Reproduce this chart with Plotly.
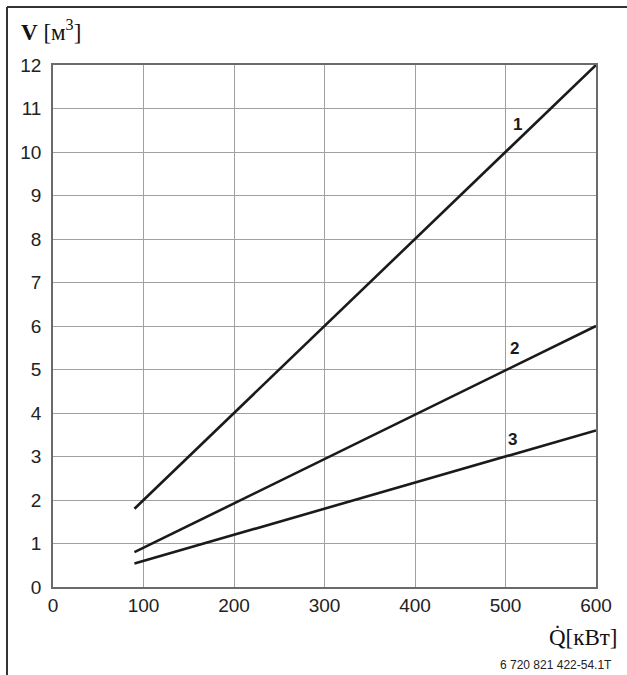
import plotly.graph_objects as go

# Data
q_values = [90, 600]
line1 = [1.8, 12.0]
line2 = [0.8, 6.0]
line3 = [0.54, 3.6]
series = [("1", line1), ("2", line2), ("3", line3)]
label_pos = {"1": (513, 10.64), "2": (510, 5.49), "3": (508, 3.38)}
x_ticks = [0, 100, 200, 300, 400, 500, 600]
y_ticks = list(range(0, 13))

W, H = 627, 675
L, T = 53, 65
R = W - 596
B = H - 587
pw, ph = W - L - R, H - T - B

fig = go.Figure()
for name, vals in series:
    fig.add_trace(go.Scatter(x=q_values, y=vals, mode="lines",
                             line=dict(color="#1a1a1a", width=2.6),
                             name=name, showlegend=False))
    lx, ly = label_pos[name]
    fig.add_annotation(x=lx, y=ly, text="<b>%s</b>" % name, showarrow=False,
                       font=dict(family="Liberation Sans, Arial", size=17, color="#1a1a1a"))


def px_to_paper_x(px):
    return (px - L) / pw


def px_to_paper_y(py):
    return (H - B - py) / ph


fig.update_layout(
    width=W, height=H,
    margin=dict(l=L, r=R, t=T, b=B),
    paper_bgcolor="white", plot_bgcolor="white",
    xaxis=dict(range=[0, 600], tickvals=x_ticks, showgrid=True, gridcolor="#a0a0a0",
               gridwidth=1, showline=True, linecolor="#6a6a6a", linewidth=1.5, mirror=True,
               zeroline=False, ticks="", ticklen=0,
               tickfont=dict(family="Liberation Sans, Arial", size=19, color="#222")),
    yaxis=dict(range=[0, 12], tickvals=y_ticks, showgrid=True, gridcolor="#a0a0a0",
               gridwidth=1, showline=True, linecolor="#6a6a6a", linewidth=1.5, mirror=True,
               zeroline=False, ticks="", ticklen=0, ticklabelstandoff=6,
               tickfont=dict(family="Liberation Sans, Arial", size=19, color="#222")),
)

# outer frame (top & left edges)
fig.add_shape(type="line", xref="paper", yref="paper",
              x0=px_to_paper_x(7), y0=px_to_paper_y(7), x1=px_to_paper_x(640), y1=px_to_paper_y(7),
              line=dict(color="#333", width=2))
fig.add_shape(type="line", xref="paper", yref="paper",
              x0=px_to_paper_x(7), y0=px_to_paper_y(7), x1=px_to_paper_x(7), y1=px_to_paper_y(690),
              line=dict(color="#333", width=2))

# axis titles
fig.add_annotation(xref="paper", yref="paper", x=px_to_paper_x(19), y=px_to_paper_y(30),
                   xanchor="left", yanchor="middle", showarrow=False,
                   text="<b>V</b> [м<sup>3</sup>]",
                   font=dict(family="Liberation Serif, Times New Roman", size=23, color="#111"))
fig.add_annotation(xref="paper", yref="paper", x=px_to_paper_x(620), y=px_to_paper_y(637),
                   xanchor="right", yanchor="middle", showarrow=False,
                   text="Q̇[кВт]",
                   font=dict(family="Liberation Serif, Times New Roman", size=23, color="#111"))
fig.add_annotation(xref="paper", yref="paper", x=px_to_paper_x(614), y=px_to_paper_y(665),
                   xanchor="right", yanchor="middle", showarrow=False,
                   text="6 720 821 422-54.1T",
                   font=dict(family="Liberation Sans, Arial", size=12, color="#222"))

fig.write_html("out.html", config={"displayModeBar": False},
               post_script="document.body.style.margin='0';document.body.style.overflow='hidden';")
